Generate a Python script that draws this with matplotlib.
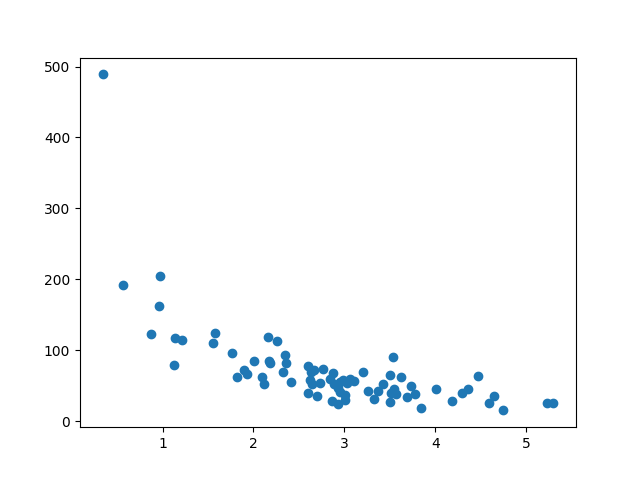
import matplotlib
matplotlib.use("Agg")
from matplotlib import pyplot as plt

x = [0.34, 0.57, 0.97, 0.96, 0.87, 1.14, 1.21, 1.13, 1.56, 1.58,
     1.76, 1.82, 1.90, 1.93, 2.01, 2.09, 2.12, 2.16, 2.17, 2.18,
     2.26, 2.32, 2.35, 2.36, 2.41, 2.60, 2.60, 2.62, 2.63, 2.64,
     2.67, 2.70, 2.73, 2.76, 2.84, 2.86, 2.87, 2.89, 2.93, 2.93,
     2.95, 2.95, 2.98, 3.01, 3.01, 3.03, 3.06, 3.11, 3.21, 3.26,
     3.33, 3.37, 3.43, 3.50, 3.50, 3.51, 3.53, 3.55, 3.57, 3.62,
     3.69, 3.73, 3.78, 3.84, 4.01, 4.18, 4.29, 4.36, 4.47, 4.59,
     4.65, 4.74, 5.23, 5.30]
y = [489, 192, 204, 162, 123, 117, 115, 79, 110, 124,
     96, 62, 72, 66, 85, 62, 52, 118, 85, 82,
     113, 69, 93, 82, 55, 77, 39, 58, 69, 52,
     72, 35, 54, 73, 59, 28, 68, 52, 46, 24,
     55, 41, 58, 37, 30, 54, 59, 56, 69, 42,
     31, 43, 52, 65, 27, 40, 90, 45, 38, 62,
     34, 49, 38, 19, 45, 28, 39, 45, 63, 25,
     36, 15, 25, 25]

plt.figure(figsize=(6.4, 4.8), dpi=100)
plt.scatter(x, y)
plt.savefig("out.png")
